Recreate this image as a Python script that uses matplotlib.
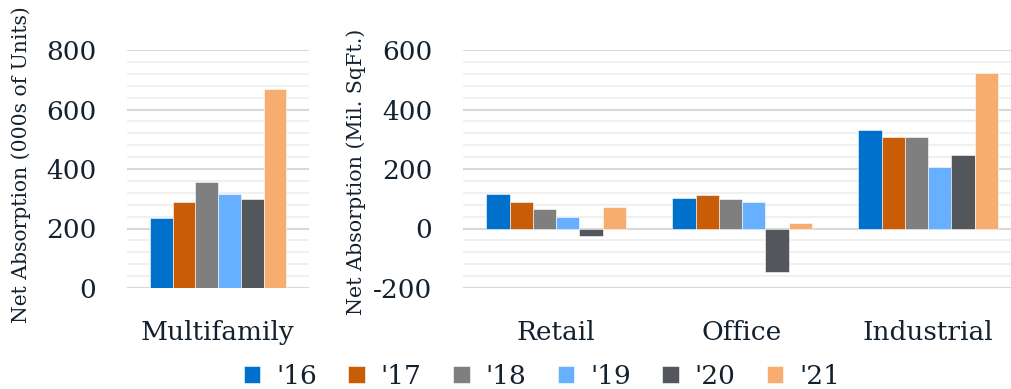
import matplotlib
matplotlib.use("Agg")
import matplotlib.pyplot as plt
from matplotlib.ticker import MultipleLocator
import numpy as np

# Data
years = ["'16", "'17", "'18", "'19", "'20", "'21"]
colors = ["#0070CD", "#C95C06", "#7F7F7F", "#66B0FF", "#53565A", "#F7AD6F"]

mf_categories = ["Multifamily"]
mf_values = {
    "'16": [234], "'17": [288], "'18": [355],
    "'19": [315], "'20": [298], "'21": [669],
}

cre_categories = ["Retail", "Office", "Industrial"]
cre_values = {
    "'16": [115, 103, 331],
    "'17": [88, 112, 309],
    "'18": [64, 98, 307],
    "'19": [39, 88, 207],
    "'20": [-24, -147, 246],
    "'21": [72, 19, 522],
}

TEXT = "#13202e"
plt.rcParams["font.family"] = ["DejaVu Serif"]
plt.rcParams["text.color"] = TEXT
plt.rcParams["axes.unicode_minus"] = False

fig = plt.figure(figsize=(10.11, 3.89), dpi=100)
W, H = 1011, 389


def px_axes(x0, y0, x1, y1):
    return fig.add_axes([x0 / W, 1 - y1 / H, (x1 - x0) / W, (y1 - y0) / H])


ax1 = px_axes(127, 50, 309, 288)
ax2 = px_axes(463, 50, 1021, 288)

group_width = 0.75
bw = group_width / len(years)


def draw(ax, cats, values, ylim, ylabel, label_size):
    x = np.arange(len(cats))
    handles = []
    for i, (yr, c) in enumerate(zip(years, colors)):
        off = -group_width / 2 + bw * (i + 0.5)
        h = ax.bar(x + off, values[yr], width=bw, color=c, edgecolor="white",
                   linewidth=0.4, label=yr, zorder=3)
        handles.append(h)
    ax.set_xlim(-0.5, len(cats) - 0.5)
    ax.set_ylim(*ylim)
    ax.yaxis.set_major_locator(MultipleLocator(200))
    ax.yaxis.set_minor_locator(MultipleLocator(40))
    ax.grid(which="major", axis="y", color="#d9d9d9", linewidth=1.5, zorder=0)
    ax.grid(which="minor", axis="y", color="#f0f0f0", linewidth=1.5, zorder=0)
    ax.set_axisbelow(True)
    ax.set_xticks(x)
    ax.set_xticklabels(cats, fontsize=19, color=TEXT)
    ax.tick_params(axis="x", length=0, pad=23)
    ax.tick_params(axis="y", which="both", length=0, labelsize=19,
                   labelcolor=TEXT, pad=22)
    for s in ax.spines.values():
        s.set_visible(False)
    ax.set_ylabel(ylabel, fontsize=label_size, color=TEXT)
    return handles


handles = draw(ax1, mf_categories, mf_values, (0, 800),
               "Net Absorption (000s of Units)", 14.6)
draw(ax2, cre_categories, cre_values, (-200, 600),
     "Net Absorption (Mil. SqFt.)", 14.9)

ax1.yaxis.set_label_coords((31 - 127) / 182, (288 - 165) / 238)
ax2.yaxis.set_label_coords((366 - 463) / 558, (288 - 172) / 238)

fig.legend(handles, years, loc="center", ncol=6, frameon=False,
           bbox_to_anchor=(542 / W, 1 - 376 / H), fontsize=19,
           handlelength=0.62, handleheight=0.62, handletextpad=0.6,
           columnspacing=1.2, labelcolor=TEXT)

fig.savefig("out.png", dpi=100)
